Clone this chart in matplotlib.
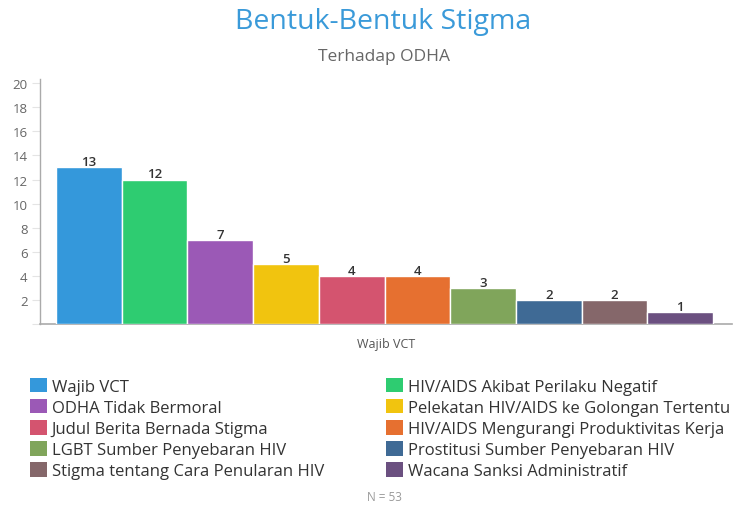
import matplotlib
matplotlib.use("Agg")
import matplotlib.pyplot as plt
from matplotlib.patches import Patch

plt.rcParams['font.family'] = ['Open Sans', 'DejaVu Sans']

categories = [
    "Wajib VCT",
    "HIV/AIDS Akibat Perilaku Negatif",
    "ODHA Tidak Bermoral",
    "Pelekatan HIV/AIDS ke Golongan Tertentu",
    "Judul Berita Bernada Stigma",
    "HIV/AIDS Mengurangi Produktivitas Kerja",
    "LGBT Sumber Penyebaran HIV",
    "Prostitusi Sumber Penyebaran HIV",
    "Stigma tentang Cara Penularan HIV",
    "Wacana Sanksi Administratif",
]
values = [13, 12, 7, 5, 4, 4, 3, 2, 2, 1]
colors = ["#3498db", "#2ecc71", "#9b59b6", "#f1c40f", "#d4546f",
          "#e67030", "#80a55b", "#3f6a95", "#85676a", "#6b5080"]
yticks = [0, 2, 4, 6, 8, 10, 12, 14, 16, 18, 20]
yticklabels = ["", "2", "4", "6", "8", "10", "12", "14", "16", "18", "20"]
gridlines = [6, 12, 18]
group_label = "Wajib VCT"
title = "Bentuk-Bentuk Stigma"
subtitle = "Terhadap ODHA"
note = "N = 53"

W, H = 737, 506
fig = plt.figure(figsize=(W / 100, H / 100), dpi=100)
ax = fig.add_axes([40 / W, 1 - 325 / H, (732 - 40) / W, (325 - 80) / H])

x = list(range(len(values)))
bars = ax.bar(x, values, width=1.0, color=colors, edgecolor="white",
              linewidth=1.0, zorder=3)
for xi, v in zip(x, values):
    ax.annotate(str(v), (xi, v), xytext=(0, 1.6), textcoords="offset points",
                ha="center", va="baseline", fontsize=9.5,
                color="#333333", fontweight="semibold", zorder=4)

ax.set_xlim(-0.745, 9.79)
ax.set_ylim(0, 20.35)
ax.set_yticks(yticks)
ax.set_yticklabels(yticklabels)
ax.set_yticks(gridlines, minor=True)
ax.grid(True, which="minor", axis="y", color="#eeeeee", linewidth=1, zorder=0)
ax.tick_params(axis="y", which="major", length=6, width=0.8, color="#e4e4e4",
               labelsize=9.5, labelcolor="#666666", pad=3)
ax.tick_params(axis="y", which="minor", length=0)
ax.set_xticks([])
ax.set_xlabel(group_label, fontsize=9, color="#555555", labelpad=9.5)

for side in ["top", "right"]:
    ax.spines[side].set_visible(False)
ax.spines["left"].set_color("#aaaaaa")
ax.spines["bottom"].set_color("#aaaaaa")
ax.spines["left"].set_linewidth(1.0)
ax.spines["bottom"].set_linewidth(1.2)

fig.text(383 / W, 1 - 22 / H, title, ha="center", va="center",
         fontsize=20.5, color="#3a9ad9")
fig.text(384 / W, 1 - 57 / H, subtitle, ha="center", va="center",
         fontsize=12.5, color="#666666")
fig.text(384 / W, 1 - 498 / H, note, ha="center", va="center",
         fontsize=8.5, color="#999999")

handles = [Patch(facecolor=c, edgecolor="none") for c in colors]
leg_kw = dict(frameon=False, fontsize=12, handlelength=1.0, handleheight=0.95,
              handletextpad=0.3, labelspacing=0.25, borderpad=0,
              borderaxespad=0, labelcolor="#333333")
leg1 = fig.legend(handles[0::2], categories[0::2], loc="upper left",
                  bbox_to_anchor=(30 / W, 1 - 379 / H), **leg_kw)
leg2 = fig.legend(handles[1::2], categories[1::2], loc="upper left",
                  bbox_to_anchor=(386 / W, 1 - 379 / H), **leg_kw)

fig.savefig("out.png", dpi=100)
